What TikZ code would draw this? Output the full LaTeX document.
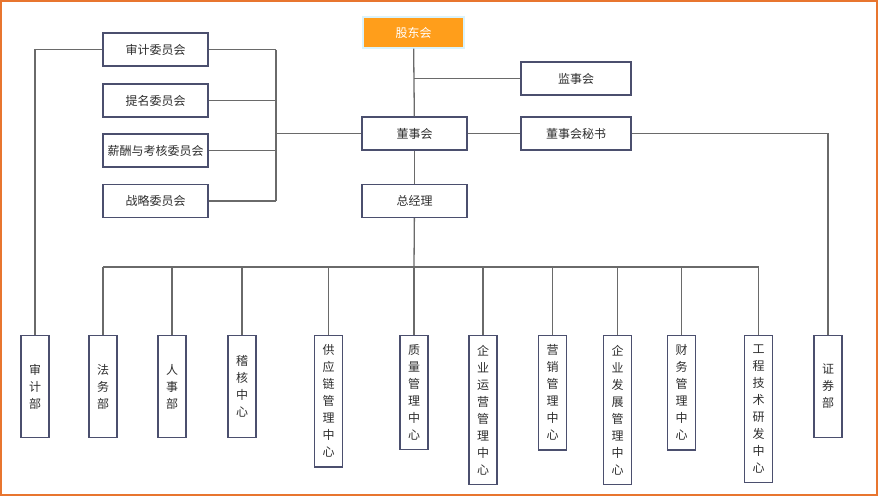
\documentclass[tikz,border=0pt]{standalone}
\usepackage{fontspec}
\setmainfont{Noto Sans CJK SC}
\definecolor{frameorange}{HTML}{E8752F}
\definecolor{boxline}{HTML}{4B4F6E}
\definecolor{linkgray}{HTML}{6A6A6A}
\definecolor{topfill}{HTML}{FF9E1B}
\definecolor{txt}{HTML}{2E2E2E}

\begin{document}
\begin{tikzpicture}[x = 1pt, y = -1pt,
        box/.style = {draw = boxline, line width = 1.1pt, fill = white, text = txt,
          minimum height = 33pt, inner sep = 0pt,
          font = \fontsize{12}{17}\selectfont},
        dept/.style = {box, anchor = north, align = center, minimum width = 28pt,
          minimum height = 102pt, inner ysep = 9.3pt},
        link/.style = {draw = linkgray, line width = 1.3pt}]
        \useasboundingbox (0, 0) rectangle (878, 496);
        \draw[frameorange, line width = 2pt] (1, 1) rectangle (877, 495);

        % board level
        \node[box, fill = topfill, draw = cyan!15, text = white, minimum width = 101pt,
          minimum height = 31pt] (gdh) at (413.5, 32.5) {股东会};
        \node[box, minimum width = 110pt] (jsh) at (576, 78.5) {监事会};
        \node[box, minimum width = 105pt] (dsh) at (414.5, 133.5) {董事会};
        \node[box, minimum width = 110pt] (mishu) at (576, 133.5) {董事会秘书};
        \node[box, minimum width = 105pt] (zjl) at (414.5, 201) {总经理};

        % committees
        \foreach \n/\y/\t in {sjwy/49.5/审计委员会, tmwy/100.5/提名委员会,
            xcwy/150.5/薪酬与考核委员会, zlwy/201/战略委员会}
          \node[box, minimum width = 105pt] (\n) at (155.5, \y) {\t};

        % departments
        \foreach \n/\x/\t in {sjb/35/{审\\计\\部}, fwb/103/{法\\务\\部},
            rsb/172/{人\\事\\部}, jhzx/242/{稽\\核\\中\\心},
            gyl/328.5/{供\\应\\链\\管\\理\\中\\心}, zlzx/414/{质\\量\\管\\理\\中\\心},
            yyzx/483/{企\\业\\运\\营\\管\\理\\中\\心}, yxzx/552.5/{营\\销\\管\\理\\中\\心},
            fzzx/617.5/{企\\业\\发\\展\\管\\理\\中\\心}, cwzx/681.5/{财\\务\\管\\理\\中\\心},
            gczx/758.5/{工\\程\\技\\术\\研\\发\\中\\心}, zqb/828/{证\\券\\部}}
          \node[dept] (\n) at (\x, 335) {\t};

        \coordinate (brk) at (276, 133.5);
        \coordinate (bus) at (414, 267);

        \draw[link] (gdh) -- (dsh);
        \draw[link] (jsh.west) -- (jsh.west -| gdh);
        \draw[link] (dsh) -- (mishu);
        \draw[link] (dsh) -- (zjl);
        \draw[link] (mishu.east) -| (zqb.north);
        \draw[link] (sjwy.west) -| (sjb.north);
        \draw[link] (brk) -- (dsh.west);
        \draw[link] (sjwy.east -| brk) -- (zlwy.east -| brk);
        \foreach \n in {sjwy, tmwy, xcwy, zlwy}
          \draw[link] (\n.east) -- (\n.east -| brk);
        \draw[link] (zjl) -- (bus);
        \draw[link] (fwb.north |- bus) -- (gczx.north |- bus);
        \foreach \n in {fwb, rsb, jhzx, gyl, zlzx, yyzx, yxzx, fzzx, cwzx, gczx}
          \draw[link] (\n.north) -- (\n.north |- bus);
      \end{tikzpicture}
\end{document}
